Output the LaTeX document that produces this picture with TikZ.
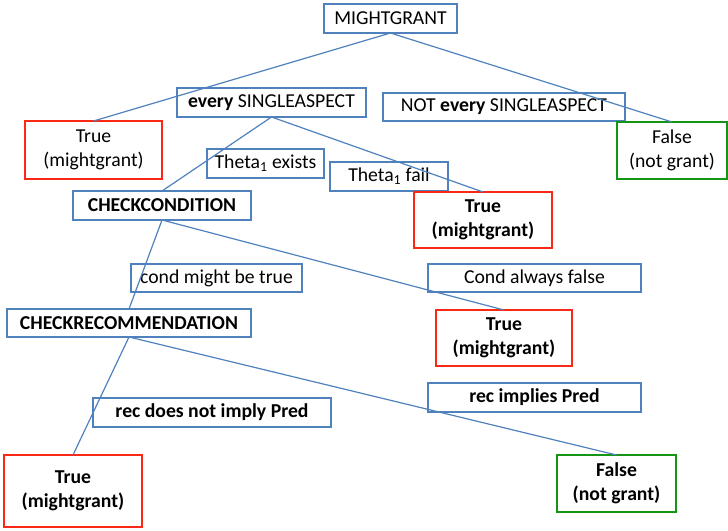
\documentclass[tikz,border=0pt]{standalone}
\usepackage{fontspec}
\setmainfont{Carlito}
\definecolor{edgeblue}{RGB}{79,129,189}
\definecolor{truered}{RGB}{250,40,20}
\definecolor{falsegreen}{RGB}{20,150,20}
\begin{document}
\begin{tikzpicture}[x=1pt,y=-1pt,
  every node/.style={inner sep=0pt, outer sep=0pt, align=center,
    font=\fontsize{19.7}{24}\selectfont},
  box/.style={draw=edgeblue, line width=1.5pt, rectangle},
  truebox/.style={draw=truered, line width=1.5pt, rectangle},
  falsebox/.style={draw=falsegreen, line width=1.5pt, rectangle},
  link/.style={draw=edgeblue, line width=1.2pt}]
\useasboundingbox (0,0) rectangle (728,530);

% decision nodes
\node[box, minimum width=133pt, minimum height=29pt] (mg) at (390.5,18.5) {MIGHTGRANT};
\node[box, minimum width=189pt, minimum height=29pt] (every) at (271.5,102.5) {\textbf{every} SINGLEASPECT};
\node[box, minimum width=178pt, minimum height=29pt] (cc) at (162,205.5) {\textbf{CHECKCONDITION}};
\node[box, minimum width=244pt, minimum height=28pt] (cr) at (129,323) {\textbf{CHECKRECOMMENDATION}};

% branch labels
\node[box, minimum width=242pt, minimum height=28pt] (notevery) at (504,107) {NOT \textbf{every} SINGLEASPECT};
\node[box, minimum width=117pt, minimum height=29pt] (thex) at (265.5,163.5) {Theta\textsubscript{1} exists};
\node[box, minimum width=118pt, minimum height=29pt] (thfail) at (389,176.5) {Theta\textsubscript{1} fail};
\node[box, minimum width=171pt, minimum height=28pt] (cmt) at (216.5,278) {cond might be true};
\node[box, minimum width=213pt, minimum height=28pt] (caf) at (534.5,278) {Cond always false};
\node[box, minimum width=238pt, minimum height=29pt] (rdn) at (212,412.5) {\textbf{rec does not imply Pred}};
\node[box, minimum width=213pt, minimum height=29pt] (rip) at (534.5,397.5) {\textbf{rec implies Pred}};

% outcomes
\node[truebox, minimum width=137pt, minimum height=58pt] (t1) at (93.5,150) {True\\(mightgrant)};
\node[falsebox, minimum width=110pt, minimum height=57pt] (f1) at (672,150.5) {False\\(not grant)};
\node[truebox, minimum width=138pt, minimum height=56pt] (t2) at (483,220) {\textbf{True}\\\textbf{(mightgrant)}};
\node[truebox, minimum width=136pt, minimum height=56pt] (t3) at (504,338) {\textbf{True}\\\textbf{(mightgrant)}};
\node[truebox, minimum width=138pt, minimum height=72pt] (t4) at (73,491) {\textbf{True}\\\textbf{(mightgrant)}};
\node[falsebox, minimum width=119pt, minimum height=57pt] (f2) at (616.5,483.5) {\textbf{False}\\\textbf{(not grant)}};

% tree edges
\draw[link] (mg.south) -- (t1.north);
\draw[link] (mg.south) -- (f1.north);
\draw[link] (every.south) -- (cc.north);
\draw[link] (every.south) -- (t2.north);
\draw[link] (cc.south) -- (cr.north);
\draw[link] (cc.south) -- (t3.north);
\draw[link] (cr.south) -- (t4.north);
\draw[link] (cr.south) -- (f2.north);
\end{tikzpicture}
\end{document}
